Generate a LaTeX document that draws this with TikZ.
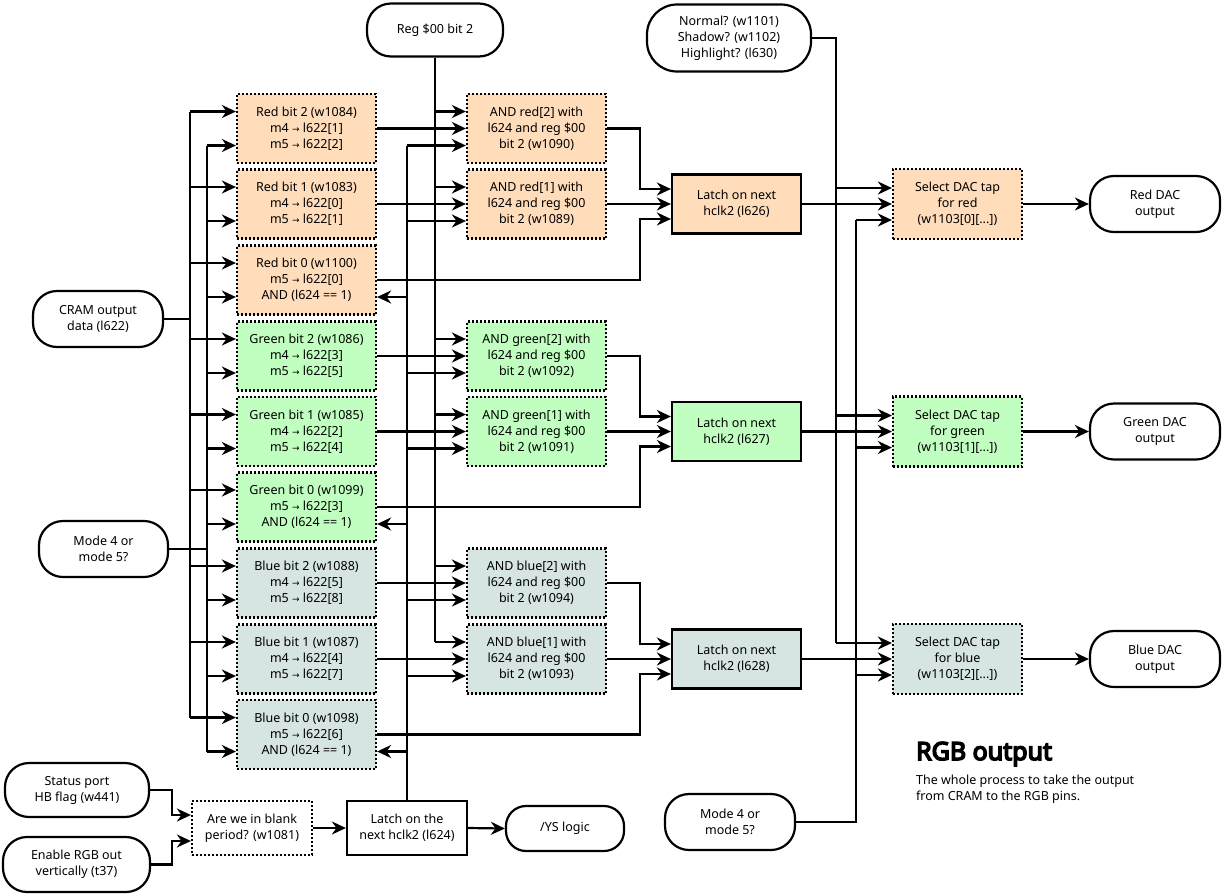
\documentclass[tikz,border=0pt]{standalone}
\usepackage{fontspec}
\setmainfont{Noto Sans}[AutoFakeBold=6]
\newfontfamily\arrowfont{DejaVu Sans}
\usepackage{tikz}
\usetikzlibrary{arrows.meta}

\definecolor{redfill}{HTML}{FFDDBB}
\definecolor{greenfill}{HTML}{C0FFC0}
\definecolor{bluefill}{HTML}{D6E4E2}
\newcommand{\tomap}{ {\arrowfont\fontsize{9}{9}\selectfont →} }

\begin{document}
\begin{tikzpicture}[x=1pt, y=-1pt, line width=2.2pt,
	font=\fontsize{12.5}{16}\selectfont,
	>={Stealth[length=14pt,width=13pt,inset=4.5pt]},
	box/.style={draw, align=center, inner sep=2pt},
	pill/.style={box, rounded corners=24pt, minimum height=56pt, minimum width=130pt},
	dotbox/.style={box, dash pattern=on 2pt off 2pt},
	bitbox/.style={dotbox, minimum width=139pt, minimum height=69pt},
	latchbox/.style={box, minimum width=129pt, minimum height=59pt},
	selbox/.style={dotbox, minimum width=129pt, minimum height=70pt}]
	
	\useasboundingbox (0,0) rectangle (1222,895);
	
	% bit boxes
	\node [bitbox, fill=redfill] (rbit2) at (306.5,128.5) {Red bit 2 (w1084)\\ m4\tomap l622[1]\\ m5\tomap l622[2]};
	\node [bitbox, fill=redfill] (rbit1) at (306.5,204) {Red bit 1 (w1083)\\ m4\tomap l622[0]\\ m5\tomap l622[1]};
	\node [bitbox, fill=redfill] (rbit0) at (306.5,280) {Red bit 0 (w1100)\\ m5\tomap l622[0]\\ AND (l624 == 1)};
	\node [bitbox, fill=greenfill] (gbit2) at (306.5,356) {Green bit 2 (w1086)\\ m4\tomap l622[3]\\ m5\tomap l622[5]};
	\node [bitbox, fill=greenfill] (gbit1) at (306.5,431.5) {Green bit 1 (w1085)\\ m4\tomap l622[2]\\ m5\tomap l622[4]};
	\node [bitbox, fill=greenfill] (gbit0) at (306.5,507) {Green bit 0 (w1099)\\ m5\tomap l622[3]\\ AND (l624 == 1)};
	\node [bitbox, fill=bluefill] (bbit2) at (306.5,583) {Blue bit 2 (w1088)\\ m4\tomap l622[5]\\ m5\tomap l622[8]};
	\node [bitbox, fill=bluefill] (bbit1) at (306.5,659) {Blue bit 1 (w1087)\\ m4\tomap l622[4]\\ m5\tomap l622[7]};
	\node [bitbox, fill=bluefill] (bbit0) at (306.5,734.5) {Blue bit 0 (w1098)\\ m5\tomap l622[6]\\ AND (l624 == 1)};
	
	% AND boxes
	\node [bitbox, fill=redfill] (rand2) at (536.5,128.5) {AND red[2] with\\ l624 and reg \$00\\ bit 2 (w1090)};
	\node [bitbox, fill=redfill] (rand1) at (536.5,204) {AND red[1] with\\ l624 and reg \$00\\ bit 2 (w1089)};
	\node [bitbox, fill=greenfill] (gand2) at (536.5,356) {AND green[2] with\\ l624 and reg \$00\\ bit 2 (w1092)};
	\node [bitbox, fill=greenfill] (gand1) at (536.5,431.5) {AND green[1] with\\ l624 and reg \$00\\ bit 2 (w1091)};
	\node [bitbox, fill=bluefill] (band2) at (536.5,583) {AND blue[2] with\\ l624 and reg \$00\\ bit 2 (w1094)};
	\node [bitbox, fill=bluefill] (band1) at (536.5,659) {AND blue[1] with\\ l624 and reg \$00\\ bit 2 (w1093)};
	
	% latches, DAC taps and outputs
	\node [latchbox, fill=redfill] (rlatch) at (736.5,204) {Latch on next\\ hclk2 (l626)};
	\node [latchbox, fill=greenfill] (glatch) at (736.5,431.5) {Latch on next\\ hclk2 (l627)};
	\node [latchbox, fill=bluefill] (blatch) at (736.5,659) {Latch on next\\ hclk2 (l628)};
	\node [selbox, fill=redfill] (rsel) at (957.5,204) {Select DAC tap\\ for red\\ (w1103[0][...])};
	\node [selbox, fill=greenfill] (gsel) at (957.5,431.5) {Select DAC tap\\ for green\\ (w1103[1][...])};
	\node [selbox, fill=bluefill] (bsel) at (957.5,659) {Select DAC tap\\ for blue\\ (w1103[2][...])};
	\node [pill] (rdac) at (1155,204) {Red DAC\\ output};
	\node [pill] (gdac) at (1155,431.5) {Green DAC\\ output};
	\node [pill] (bdac) at (1155,659) {Blue DAC\\ output};
	
	% inputs
	\node [pill] (cram) at (98,319) {CRAM output\\ data (l622)};
	\node [pill, minimum width=129pt] (modeL) at (103.5,549) {Mode 4 or\\ mode 5?};
	\node [pill, minimum width=136pt, minimum height=53pt] (reg) at (435,30) {Reg \$00 bit 2};
	\node [pill, minimum width=164pt, minimum height=67pt, rounded corners=30pt] (shade) at (729,38) {Normal? (w1101)\\ Shadow? (w1102)\\ Highlight? (l630)};
	\node [pill] (modeR) at (730,822) {Mode 4 or\\ mode 5?};
	\node [pill, minimum width=144pt, minimum height=54pt] (hbflag) at (77,790) {Status port\\ HB flag (w441)};
	\node [pill, minimum width=147pt, minimum height=55pt] (rgbout) at (76.5,864.5) {Enable RGB out\\ vertically (t37)};
	\node [dotbox, fill=white, minimum width=120pt, minimum height=54pt] (blank) at (252,828) {Are we in blank\\ period? (w1081)};
	\node [box, minimum width=120pt, minimum height=54pt] (latchl) at (407,828) {Latch on the\\ next hclk2 (l624)};
	\node [pill, minimum width=118pt, minimum height=45pt, rounded corners=20pt] (ys) at (565,828.5) {/YS logic};
	
	% title
	\node [anchor=base west, inner sep=0pt, font=\fontsize{25}{30}\selectfont\bfseries] (title) at (915,760) {RGB output};
	\node [anchor=north west, inner sep=0pt, align=left] (desc) at (915,774) {The whole process to take the output\\ from CRAM to the RGB pins.};
	
	% bus lines
	\coordinate (cbus) at (190,0);
	\coordinate (mbus) at (207,0);
	\coordinate (lbus) at (407,0);
	\coordinate (rbus) at (435,0);
	\coordinate (jx) at (640,0);
	\coordinate (nbus) at (836,0);
	\coordinate (m2bus) at (856,0);
	\coordinate (hx) at (172,0);
	
	\foreach \bit in {rbit2,rbit1,rbit0,gbit2,gbit1,gbit0,bbit2,bbit1,bbit0} {
		\coordinate (\bit-in1) at ([yshift=17pt]\bit.west);
		\coordinate (\bit-in2) at ([yshift=-17pt]\bit.west);
		\draw [->] (\bit-in1 -| cbus) -- (\bit-in1);
		\draw [->] (\bit-in2 -| mbus) -- (\bit-in2);
	}
	\draw (cram.east) -- (cram.east -| cbus);
	\draw (rbit2-in1 -| cbus) -- (bbit0-in1 -| cbus);
	\draw (modeL.east) -- (modeL.east -| mbus);
	\draw (rbit2-in2 -| mbus) -- (bbit0-in2 -| mbus);
	
	\foreach \gate/\bit in {rand2/rbit2,rand1/rbit1,gand2/gbit2,gand1/gbit1,band2/bbit2,band1/bbit1} {
		\coordinate (\gate-in1) at ([yshift=17pt]\gate.west);
		\coordinate (\gate-in3) at ([yshift=-17pt]\gate.west);
		\draw [->] (\gate-in1 -| rbus) -- (\gate-in1);
		\draw [->] (\bit.east) -- (\gate.west);
		\draw [->] (\gate-in3 -| lbus) -- (\gate-in3);
	}
	\draw (reg.south) -- (band1-in1 -| rbus);
	\draw (latchl.north) -- (rand2-in3 -| lbus);
	\foreach \bit in {rbit0,gbit0,bbit0}
		\draw [->] (\bit-in2 -| lbus) -- (\bit-in2 -| \bit.east);
	
	\foreach \latch/\gateA/\gateB/\bit/\sel/\dac in {rlatch/rand2/rand1/rbit0/rsel/rdac,glatch/gand2/gand1/gbit0/gsel/gdac,blatch/band2/band1/bbit0/bsel/bdac} {
		\draw [->] (\gateA.east) -- (\gateA.east -| jx) |- ([yshift=15pt]\latch.west);
		\draw [->] (\gateB.east) -- (\latch.west);
		\draw [->] (\bit.east) -- (\bit.east -| jx) |- ([yshift=-15pt]\latch.west);
		\coordinate (\sel-in1) at ([yshift=16pt]\sel.west);
		\coordinate (\sel-in3) at ([yshift=-16pt]\sel.west);
		\draw [->] (\sel-in1 -| nbus) -- (\sel-in1);
		\draw [->] (\latch.east) -- (\sel.west);
		\draw [->] (\sel-in3 -| m2bus) -- (\sel-in3);
		\draw [->] (\sel.east) -- (\dac.west);
	}
	\draw (shade.east) -| (bsel-in1 -| nbus);
	\draw (modeR.east) -| (rsel-in3 -| m2bus);
	
	% blanking
	\draw [->] (hbflag.east) -- (hbflag.east -| hx) |- ([yshift=13pt]blank.west);
	\draw [->] (rgbout.east) -- (rgbout.east -| hx) |- ([yshift=-13pt]blank.west);
	\draw [->] (blank.east) -- (latchl.west);
	\draw [->] (latchl.east) -- (ys.west);
	
\end{tikzpicture}
\end{document}
